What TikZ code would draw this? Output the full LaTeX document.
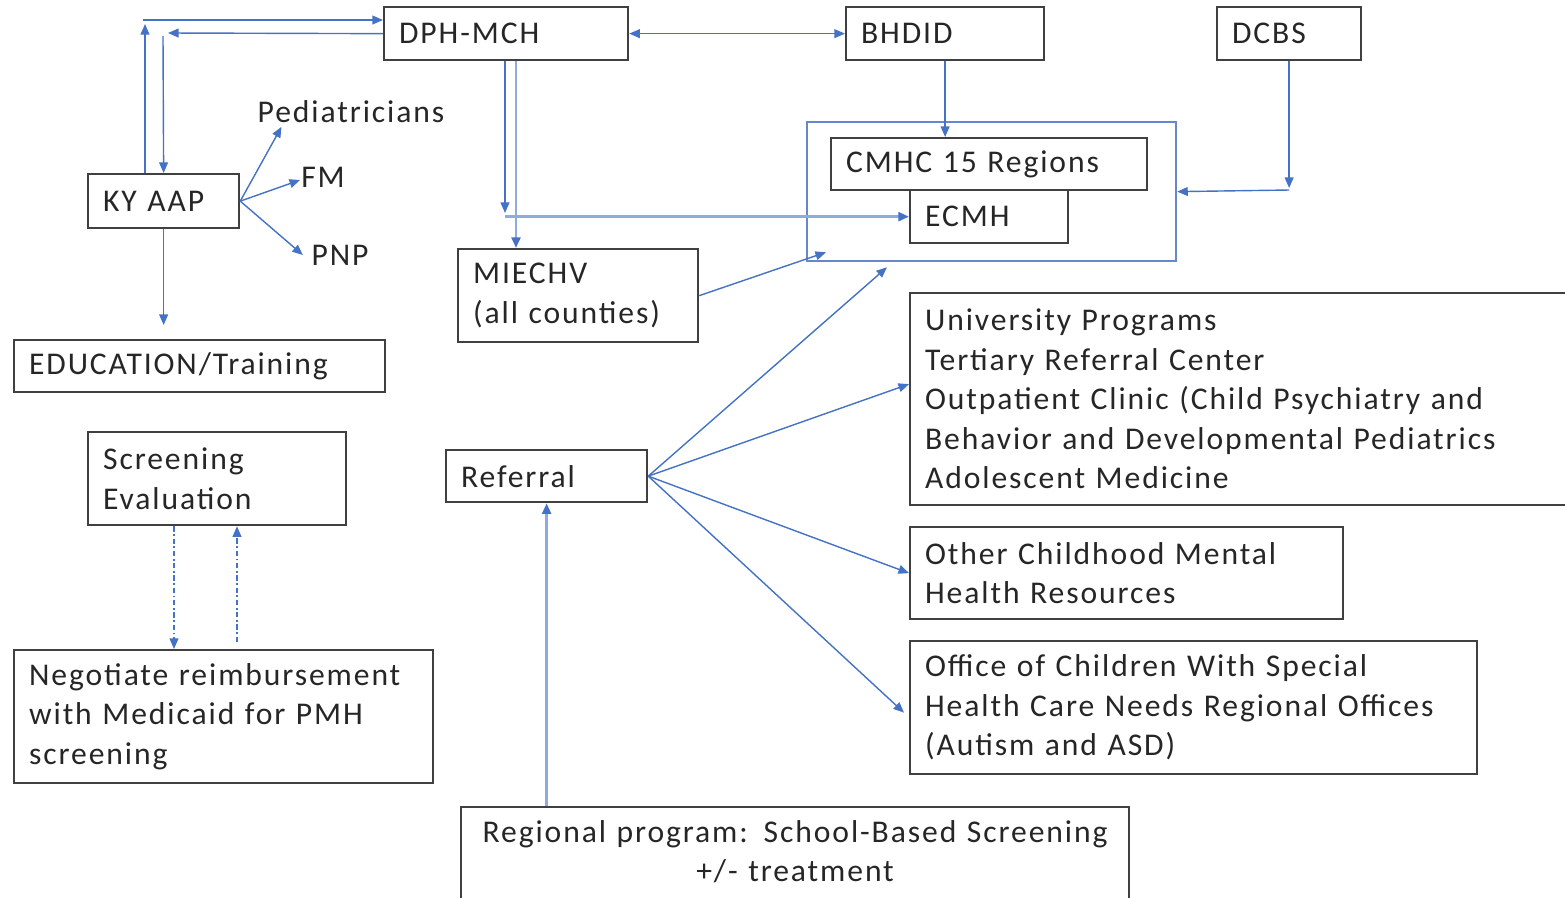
\documentclass[tikz,border=0pt]{standalone}
\usepackage{fontspec}
\setmainfont{Carlito}[LetterSpace=6]
\usepackage{tikz}
\usetikzlibrary{arrows.meta}

\definecolor{boxgray}{RGB}{64,64,64}
\definecolor{arrowblue}{RGB}{68,114,196}
\definecolor{lightblue}{RGB}{143,170,220}
\definecolor{ringblue}{RGB}{100,135,205}

\tikzset{
  box/.style={draw=boxgray, line width=1.3pt, anchor=north west, align=left,
    inner xsep=0.3cm, inner ysep=0pt, text=black!85},
  lbl/.style={text=black!85},
  arr/.style={draw=arrowblue, line width=0.8pt, -{Triangle[length=6pt,width=5pt]}},
  arrlight/.style={draw=lightblue, line width=1.5pt, -{Triangle[length=6pt,width=5pt,color=arrowblue]}},
  dasharr/.style={arr, dash pattern=on 3pt off 1.5pt on 1pt off 1.5pt}
}

\begin{document}
\begin{tikzpicture}[x=0.02cm, y=-0.02cm, font=\fontsize{18}{22.5}\selectfont]
    \useasboundingbox (0,0) rectangle (1565,897);
    \clip (0,0) rectangle (1565,897);

    \node[box, text width=4.28cm, minimum height=1.06cm] (dph) at (383,6) {DPH-MCH};
    \node[box, text width=3.36cm, minimum height=1.06cm] (bhdid) at (845,6) {BHDID};
    \node[box, text width=2.28cm, minimum height=1.06cm] (dcbs) at (1216,6) {DCBS};
    \node[box, text width=2.42cm, minimum height=1.08cm] (kyaap) at (87,173) {KY AAP};
    \node[box, text width=6.82cm, minimum height=1.04cm] (edu) at (13,339) {EDUCATION/Training};
    \node[box, text width=4.2cm, minimum height=1.86cm] (miechv) at (457,248) {MIECHV\\(all counties)};

    \node[draw=ringblue, line width=1.3pt, anchor=north west, minimum width=7.38cm,
      minimum height=2.78cm, inner sep=0pt] (ring) at (806,121) {};
    \node[box, text width=5.72cm, minimum height=1.04cm] (cmhc) at (830,137) {CMHC 15 Regions};
    \node[box, text width=2.56cm, minimum height=1.06cm] (ecmh) at (909,189) {ECMH};

    \node[box, text width=13.22cm, minimum height=4.24cm] (univ) at (909,292)
      {University Programs\\Tertiary Referral Center\\Outpatient Clinic (Child Psychiatry and\\Behavior and Developmental Pediatrics\\Adolescent Medicine};
    \node[box, text width=8.06cm, minimum height=1.84cm] (other) at (909,526)
      {Other Childhood Mental\\Health Resources};
    \node[box, text width=10.74cm, minimum height=2.66cm] (office) at (909,640)
      {Office of Children With Special\\Health Care Needs Regional Offices\\(Autism and ASD)};

    \node[box, text width=3.42cm, minimum height=1.04cm] (referral) at (445,449) {Referral};
    \node[box, text width=4.56cm, minimum height=1.86cm] (screen) at (87,431) {Screening\\Evaluation};
    \node[box, text width=7.78cm, minimum height=2.66cm] (negot) at (13,649)
      {Negotiate reimbursement\\with Medicaid for PMH\\screening};
    \node[box, text width=12.76cm, align=center, inner ysep=0.26cm, text depth=1.6cm] (regional) at (460,806)
      {Regional program: School-Based Screening\\+/- treatment};

    \node[lbl] (ped) at (351,112) {Pediatricians};
    \node[lbl] (fm) at (323,177) {FM};
    \node[lbl] (pnp) at (340,255) {PNP};

    \draw[arr] (kyaap.north -| 145,0) -- (145,24);
    \draw[arr] (143,20) -- (dph.west |- 0,20);
    \draw[arr] (dph.west) -- (168,33);
    \draw[arr] (163,36) -- (kyaap.north);
    \draw[arr, {Triangle[length=6pt,width=5pt]}-{Triangle[length=6pt,width=5pt]}] (dph.east) -- (bhdid.west);

    \draw[arr] (dph.south -| 505,0) -- (505,213);
    \draw[arrlight] (dph.south -| 516,0) -- (miechv.north -| 516,0);
    \draw[arrlight] (ecmh.west -| 505,0) -- (ecmh.west);

    \draw[arr] (bhdid.south) -- (bhdid.south |- cmhc.north);
    \draw[arr] (dcbs.south) -- (dcbs.south |- 0,188);
    \draw[arr] (dcbs.south |- 0,190) -- (ring.east);

    \draw[arr] (kyaap.east) -- ([xshift=0.6cm,yshift=0.05cm]ped.south west);
    \draw[arr] (kyaap.east) -- ([xshift=0.1cm,yshift=-0.06cm]fm.west);
    \draw[arr] (kyaap.east) -- ([xshift=-0.05cm]pnp.west);
    \draw[arr] (kyaap.south) -- (kyaap.south |- 0,325);

    \draw[arr] (miechv.east) -- ([shift={(0.4cm,0.2cm)}]ring.south west);

    \draw[arr] (referral.east) -- ([shift={(1.62cm,-0.1cm)}]ring.south west);
    \draw[arr] (referral.east) -- ([yshift=0.3cm]univ.west);
    \draw[arr] (referral.east) -- (other.west);
    \draw[arr] (referral.east) -- ([xshift=-0.1cm,yshift=-0.1cm]office.west);
    \draw[arrlight] (regional.north -| referral.south) -- (referral.south);

    \draw[dasharr] (screen.south -| 174,0) -- (negot.north -| 174,0);
    \draw[dasharr] (237,642) -- (screen.south -| 237,0);
\end{tikzpicture}
\end{document}
